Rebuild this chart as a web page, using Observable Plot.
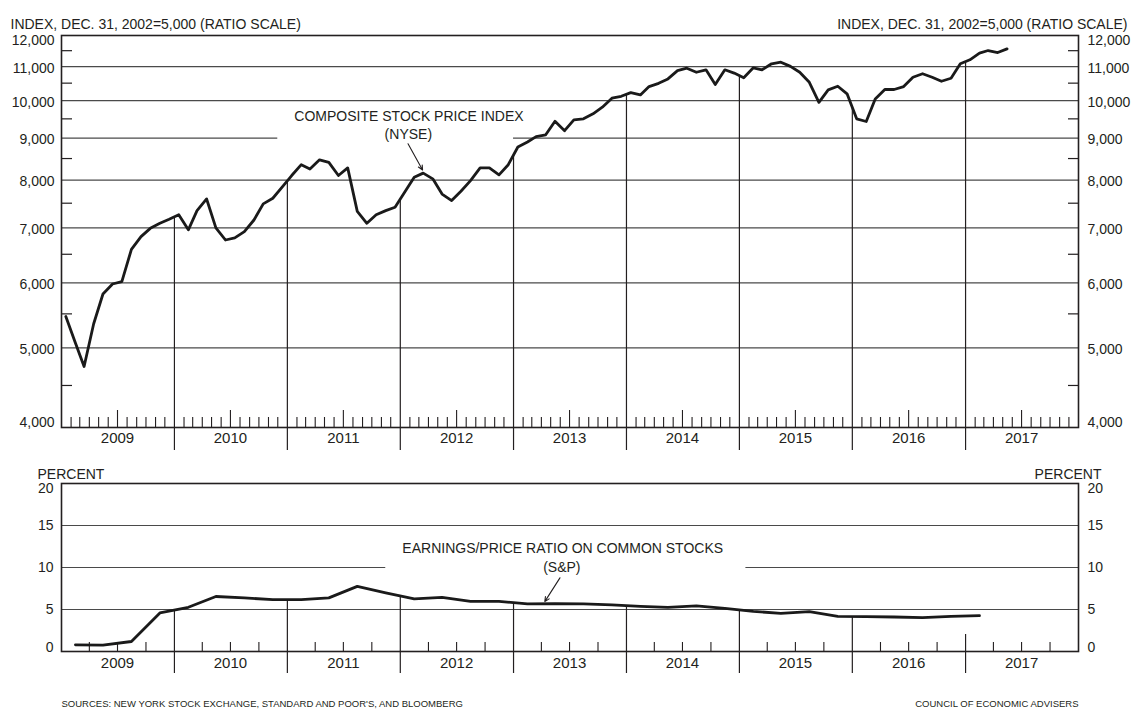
<!DOCTYPE html>
<html>
<head>
<meta charset="utf-8">
<script src="https://cdn.jsdelivr.net/npm/d3@7"></script>
<script src="https://cdn.jsdelivr.net/npm/@observablehq/plot@0.6"></script>
<style>
  html, body { margin: 0; padding: 0; background: #ffffff; }
  #chart { position: relative; width: 1131px; height: 711px; background: #ffffff; }
  #chart svg { display: block; }
</style>
</head>
<body>
<div id="chart"></div>
<script>
// ---------------- DATA ----------------
const firstMonth = [2009, 0];          // January 2009 (monthly series start)
const nyseIndex = [
  // 2009
  5460, 5070, 4745, 5350, 5815, 5980, 6020, 6590, 6830, 6990, 7090, 7170,
  // 2010
  7260, 6960, 7345, 7590, 7000, 6765, 6805, 6925, 7155, 7485, 7605, 7845,
  // 2011
  8105, 8355, 8255, 8470, 8410, 8105, 8280, 7330, 7090, 7260, 7345, 7415,
  // 2012
  7735, 8065, 8160, 8030, 7695, 7555, 7755, 7990, 8280, 8280, 8120, 8355,
  // 2013
  8780, 8905, 9040, 9085, 9435, 9190, 9475, 9500, 9635, 9815, 10065, 10120,
  // 2014
  10225, 10160, 10400, 10495, 10625, 10875, 10950, 10825, 10900, 10460, 10900, 10800,
  // 2015
  10660, 10960, 10900, 11085, 11135, 11005, 10825, 10525, 9950, 10305, 10410, 10190,
  // 2016
  9500, 9430, 10045, 10315, 10315, 10400, 10675, 10780, 10675, 10555, 10645, 11085,
  // 2017
  11210, 11420, 11505, 11440, 11560
];

const firstQuarter = [2009, 0];        // 2009 Q1 (quarterly series start)
const earningsPriceRatio = [
  0.80, 0.76, 1.19, 4.59,   // 2009
  5.26, 6.55, 6.38, 6.18,   // 2010
  6.18, 6.38, 7.75, 6.97,   // 2011
  6.26, 6.45, 5.97, 5.97,   // 2012
  5.66, 5.70, 5.66, 5.54,   // 2013
  5.38, 5.26, 5.42, 5.14,   // 2014
  4.78, 4.54, 4.74, 4.18,   // 2015
  4.15, 4.11, 4.03, 4.18,   // 2016
  4.26                      // 2017
];

const years = [2009, 2010, 2011, 2012, 2013, 2014, 2015, 2016, 2017];
const indexTicks = [4000, 5000, 6000, 7000, 8000, 9000, 10000, 11000, 12000];
const indexHalfTicks = [4500, 5500, 6500, 7500, 8500, 9500, 10500, 11500];
const indexGrid = [5000, 6000, 7000, 8000, 10000, 11000];
const indexBrokenGrid = [9000];
const percentTicks = [0, 5, 10, 15, 20];
const percentGrid = [5, 15];
const percentBrokenGrid = [10];

const indexTitle = "INDEX, DEC. 31, 2002=5,000 (RATIO SCALE)";
const percentTitle = "PERCENT";
const nyseLabel = ["COMPOSITE STOCK PRICE INDEX", "(NYSE)"];
const epLabel = ["EARNINGS/PRICE RATIO ON COMMON STOCKS", "(S&P)"];
const sourceNote = "SOURCES: NEW YORK STOCK EXCHANGE, STANDARD AND POOR'S, AND BLOOMBERG";
const creditNote = "COUNCIL OF ECONOMIC ADVISERS";

// annotation placement (data coordinates)
const nyseLabelPos = [{date: "2012-01-29", value: 9560}, {date: "2012-01-27", value: 9090}];
const nyseArrowPos = {from: {date: "2012-01-26", value: 8860}, to: {date: "2012-03-13", value: 8230}};
const nyseGridGap = ["2010-12-01", "2013-01-01"];
const epLabelPos = [{date: "2013-06-09", value: 12.23}, {date: "2013-06-06", value: 10.04}];
const epArrowPos = {from: {date: "2013-05-31", value: 8.77}, to: {date: "2013-04-12", value: 5.94}};
const epGridGap = ["2011-11-15", "2015-01-22"];

// ---------------- HELPERS ----------------
const utc = (y, m, d) => new Date(Date.UTC(y, m, d));
const parse = (s) => new Date(s + "T00:00:00Z");
const nyseSeries = nyseIndex.map((v, i) => ({date: utc(firstMonth[0], firstMonth[1] + i, 15), value: v}));
const epSeries = earningsPriceRatio.map((v, i) => ({date: utc(firstQuarter[0], firstQuarter[1] + 3 * i + 1, 15), value: v}));

function valueAt(series, t, log) {
  for (let i = 1; i < series.length; i++) {
    const a = series[i - 1], b = series[i];
    if (b.date >= t && a.date <= t) {
      const f = (t - a.date) / (b.date - a.date);
      return log
        ? Math.exp(Math.log(a.value) + f * (Math.log(b.value) - Math.log(a.value)))
        : a.value + f * (b.value - a.value);
    }
  }
  return null;
}

const xDomain = [utc(years[0], 0, 1), utc(years[years.length - 1] + 1, 0, 1)];
const yearStarts = years.slice(1).map(y => utc(y, 0, 1));
const yearMids = years.map(y => ({year: y, date: utc(y, 6, 1)}));
const monthStarts = d3.utcMonth.range(xDomain[0], xDomain[1]).filter(d => d.getUTCMonth() !== 0);
const quarterStarts = d3.utcMonth.every(3).range(xDomain[0], xDomain[1]).filter(d => d.getUTCMonth() !== 0);
const fmt = d3.format(",");

// ---------------- LAYOUT / STYLE ----------------
const W = 1131;
const mLeft = 61, mRight = 53;
const frameW = W - mLeft - mRight;
const INK = "#231f20";
const GRID = "#4a4a4a";
const FONT = "'Liberation Sans', Arial, sans-serif";

const topH = 455, topMT = 35, topMB = 28;
const topFrameH = topH - topMT - topMB;
const botH = 256, botMT = 28, botMB = 60;
const botFrameH = botH - botMT - botMB;

const baseStyle = {fontFamily: FONT, fontSize: "14px", color: INK, background: "transparent", overflow: "visible"};

// ---------------- TOP CHART ----------------
const nyseYearLines = yearStarts.map(t => ({date: t, value: valueAt(nyseSeries, t, true)}));

const topPlot = Plot.plot({
  width: W, height: topH,
  marginLeft: mLeft, marginRight: mRight, marginTop: topMT, marginBottom: topMB,
  style: baseStyle,
  x: {type: "utc", domain: xDomain, axis: null},
  y: {type: "log", domain: [indexTicks[0], indexTicks[indexTicks.length - 1]], axis: null},
  marks: [
    // gridlines
    Plot.ruleY(indexGrid, {stroke: GRID, strokeWidth: 1.2}),
    Plot.ruleY(indexBrokenGrid, {x1: xDomain[0], x2: parse(nyseGridGap[0]), stroke: GRID, strokeWidth: 1.2}),
    Plot.ruleY(indexBrokenGrid, {x1: parse(nyseGridGap[1]), x2: xDomain[1], stroke: GRID, strokeWidth: 1.2}),
    // half ticks on both sides
    Plot.ruleY(indexHalfTicks, {insetRight: frameW - 11, stroke: INK, strokeWidth: 1.2}),
    Plot.ruleY(indexHalfTicks, {insetLeft: frameW - 10, stroke: INK, strokeWidth: 1.2}),
    // month ticks
    Plot.ruleX(monthStarts.filter(d => d.getUTCMonth() !== 6), {insetTop: topFrameH - 10, stroke: INK, strokeWidth: 1.1}),
    Plot.ruleX(monthStarts.filter(d => d.getUTCMonth() === 6), {insetTop: topFrameH - 17, stroke: INK, strokeWidth: 1.1}),
    // year separators: up to data and below axis
    Plot.ruleX(nyseYearLines, {x: "date", y1: "value", y2: indexTicks[0], stroke: INK, strokeWidth: 1.2}),
    Plot.ruleX(yearStarts, {insetTop: topFrameH, insetBottom: -23, stroke: INK, strokeWidth: 1.2}),
    // frame
    Plot.frame({stroke: INK, strokeWidth: 1.6}),
    // series
    Plot.line(nyseSeries, {x: "date", y: "value", stroke: "#1a1a1a", strokeWidth: 2.8}),
    // tick labels left / right
    Plot.text(indexTicks.slice(1, -1), {y: d => d, text: d => fmt(d), frameAnchor: "left", dx: -7, dy: 1.5, textAnchor: "end", fill: INK, fontSize: 14}),
    Plot.text(indexTicks.slice(1, -1), {y: d => d, text: d => fmt(d), frameAnchor: "right", dx: 9, dy: 1.5, textAnchor: "start", fill: INK, fontSize: 14}),
    Plot.text(indexTicks.slice(-1), {y: d => d, text: d => fmt(d), frameAnchor: "left", dx: -7, dy: 5, textAnchor: "end", fill: INK, fontSize: 14}),
    Plot.text(indexTicks.slice(-1), {y: d => d, text: d => fmt(d), frameAnchor: "right", dx: 9, dy: 5, textAnchor: "start", fill: INK, fontSize: 14}),
    Plot.text(indexTicks.slice(0, 1), {y: d => d, text: d => fmt(d), frameAnchor: "left", dx: -7, dy: -5, textAnchor: "end", fill: INK, fontSize: 14}),
    Plot.text(indexTicks.slice(0, 1), {y: d => d, text: d => fmt(d), frameAnchor: "right", dx: 9, dy: -5, textAnchor: "start", fill: INK, fontSize: 14}),
    // year labels
    Plot.text(yearMids, {x: "date", text: d => String(d.year), frameAnchor: "bottom", dy: 15, fill: INK, fontSize: 15}),
    // axis titles
    Plot.text([indexTitle], {frameAnchor: "top-left", dx: -51, dy: -16, textAnchor: "start", fill: INK, fontSize: 14}),
    Plot.text([indexTitle], {frameAnchor: "top-right", dx: 49, dy: -16, textAnchor: "end", fill: INK, fontSize: 14}),
    // annotation
    Plot.text(nyseLabel, {x: (d, i) => parse(nyseLabelPos[i].date), y: (d, i) => nyseLabelPos[i].value, text: d => d, fill: INK, fontSize: 14}),
    Plot.arrow([nyseArrowPos], {
      x1: d => parse(d.from.date), y1: d => d.from.value,
      x2: d => parse(d.to.date), y2: d => d.to.value,
      stroke: INK, strokeWidth: 1.1, headLength: 7, headAngle: 50
    })
  ]
});

// ---------------- BOTTOM CHART ----------------
const epYearLines = yearStarts.slice(0, -1).map(t => ({date: t, value: valueAt(epSeries, t, false)}));
const epLastYearTick = yearStarts.slice(-1);

const botPlot = Plot.plot({
  width: W, height: botH,
  marginLeft: mLeft, marginRight: mRight, marginTop: botMT, marginBottom: botMB,
  style: baseStyle,
  x: {type: "utc", domain: xDomain, axis: null},
  y: {type: "linear", domain: [percentTicks[0], percentTicks[percentTicks.length - 1]], axis: null},
  marks: [
    Plot.ruleY(percentGrid, {stroke: GRID, strokeWidth: 1.2}),
    Plot.ruleY(percentBrokenGrid, {x1: xDomain[0], x2: parse(epGridGap[0]), stroke: GRID, strokeWidth: 1.2}),
    Plot.ruleY(percentBrokenGrid, {x1: parse(epGridGap[1]), x2: xDomain[1], stroke: GRID, strokeWidth: 1.2}),
    // quarter ticks
    Plot.ruleX(quarterStarts, {insetTop: botFrameH - 9, stroke: INK, strokeWidth: 1.1}),
    // year separators
    Plot.ruleX(epYearLines, {x: "date", y1: "value", y2: percentTicks[0], stroke: INK, strokeWidth: 1.2}),
    Plot.ruleX(epLastYearTick, {insetTop: botFrameH - 17, stroke: INK, strokeWidth: 1.2}),
    Plot.ruleX(yearStarts, {insetTop: botFrameH, insetBottom: -22, stroke: INK, strokeWidth: 1.2}),
    Plot.frame({stroke: INK, strokeWidth: 1.6}),
    Plot.line(epSeries, {x: "date", y: "value", stroke: "#1a1a1a", strokeWidth: 2.8}),
    // tick labels
    Plot.text(percentTicks.slice(1, -1), {y: d => d, text: d => String(d), frameAnchor: "left", dx: -8, dy: 0.5, textAnchor: "end", fill: INK, fontSize: 14}),
    Plot.text(percentTicks.slice(1, -1), {y: d => d, text: d => String(d), frameAnchor: "right", dx: 9, dy: 0.5, textAnchor: "start", fill: INK, fontSize: 14}),
    Plot.text(percentTicks.slice(-1), {y: d => d, text: d => String(d), frameAnchor: "left", dx: -8, dy: 5.5, textAnchor: "end", fill: INK, fontSize: 14}),
    Plot.text(percentTicks.slice(-1), {y: d => d, text: d => String(d), frameAnchor: "right", dx: 9, dy: 5.5, textAnchor: "start", fill: INK, fontSize: 14}),
    Plot.text(percentTicks.slice(0, 1), {y: d => d, text: d => String(d), frameAnchor: "left", dx: -8, dy: -4, textAnchor: "end", fill: INK, fontSize: 14}),
    Plot.text(percentTicks.slice(0, 1), {y: d => d, text: d => String(d), frameAnchor: "right", dx: 9, dy: -4, textAnchor: "start", fill: INK, fontSize: 14}),
    // year labels
    Plot.text(yearMids, {x: "date", text: d => String(d.year), frameAnchor: "bottom", dy: 16, fill: INK, fontSize: 15}),
    // axis titles
    Plot.text([percentTitle], {frameAnchor: "top-left", dx: -24, dy: -14, textAnchor: "start", fill: INK, fontSize: 14}),
    Plot.text([percentTitle], {frameAnchor: "top-right", dx: 23, dy: -14, textAnchor: "end", fill: INK, fontSize: 14}),
    // annotation
    Plot.text(epLabel, {x: (d, i) => parse(epLabelPos[i].date), y: (d, i) => epLabelPos[i].value, text: d => d, fill: INK, fontSize: 14}),
    Plot.arrow([epArrowPos], {
      x1: d => parse(d.from.date), y1: d => d.from.value,
      x2: d => parse(d.to.date), y2: d => d.to.value,
      stroke: INK, strokeWidth: 1.1, headLength: 7, headAngle: 50
    }),
    // footer notes
    Plot.text([sourceNote], {frameAnchor: "bottom-left", dy: 55, textAnchor: "start", fill: INK, fontSize: 9.5}),
    Plot.text([creditNote], {frameAnchor: "bottom-right", dy: 55, textAnchor: "end", fill: INK, fontSize: 9.5})
  ]
});

const chart = document.getElementById("chart");
chart.appendChild(topPlot);
chart.appendChild(botPlot);
</script>
</body>
</html>
